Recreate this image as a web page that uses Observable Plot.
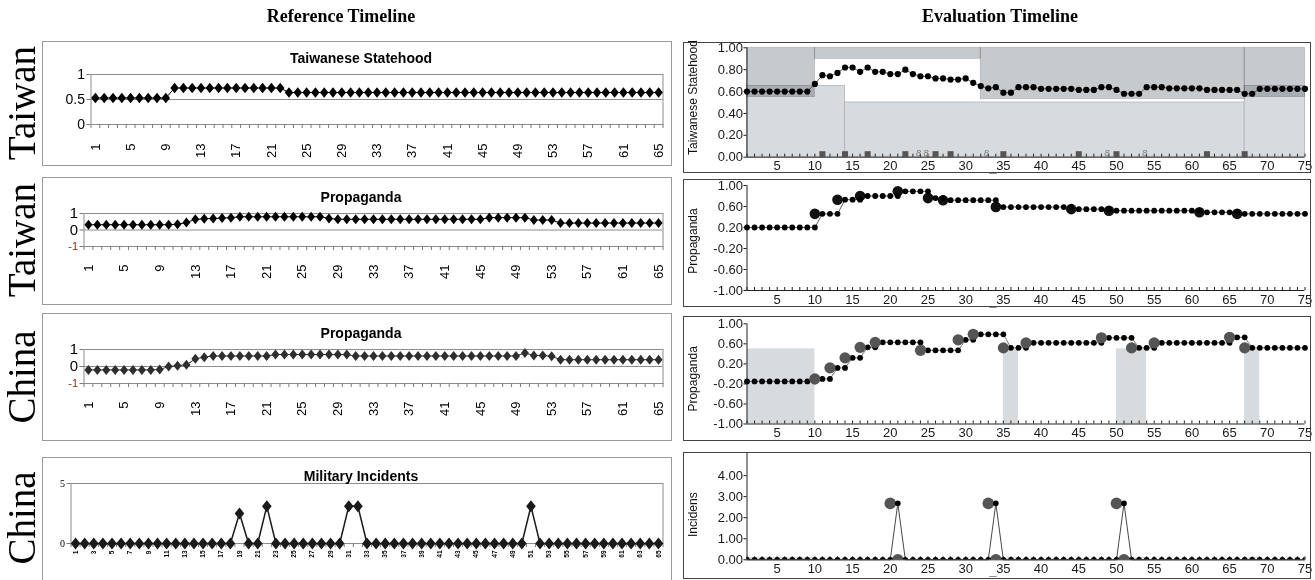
<!DOCTYPE html>
<html><head><meta charset="utf-8">
<script src="https://cdn.jsdelivr.net/npm/d3@7"></script>
<script src="https://cdn.jsdelivr.net/npm/@observablehq/plot@0.6"></script>
<style>
html,body{margin:0;padding:0;background:#fff;}
body{width:1315px;height:580px;position:relative;overflow:hidden;font-family:'Liberation Sans',Arial,sans-serif;}
svg{position:absolute;}
</style></head><body>
<script>
// ---------- text ----------
const headers = ["Reference Timeline", "Evaluation Timeline"];
const rowLabels = ["Taiwan", "Taiwan", "China", "China"];
const refTitles = ["Taiwanese Statehood", "Propaganda", "Propaganda", "Military Incidents"];
const evalYLabels = ["Taiwanese Statehood", "Propaganda", "Propaganda", "Incidens"];

// ---------- reference timeline (categories 1..65) ----------
const refCats = d3.range(1, 66);
const refBounds = d3.range(0.5, 66, 1);
const refTickLabels = [1,5,9,13,17,21,25,29,33,37,41,45,49,53,57,61,65];
const refIncTickLabels = [1,3,5,7,9,11,13,15,17,19,21,23,25,27,29,31,33,35,37,39,41,43,45,47,49,51,53,55,57,59,61,63,65];

const refStatehood = [
 0.53,0.53,0.53,0.53,0.53,0.53,0.53,0.53,0.53,
 0.73,0.73,0.73,0.73,0.73,0.73,0.73,0.73,0.73,0.73,0.73,0.73,0.73,
 0.64,0.64,0.64,0.64,0.64,0.64,0.64,0.64,0.64,0.64,
 0.64,0.64,0.64,0.64,0.64,0.64,0.64,0.64,0.64,0.64,
 0.64,0.64,0.64,0.64,0.64,0.64,0.64,0.64,0.64,0.64,
 0.64,0.64,0.64,0.64,0.64,0.64,0.64,0.64,0.64,0.64,
 0.64,0.64,0.64];
const refPropTaiwan = [
 0.32,0.32,0.32,0.32,0.32,0.32,0.32,0.32,0.32,0.32,
 0.35,0.45,0.65,0.68,0.70,0.72,0.75,
 0.80,0.80,0.80,0.80,0.80,0.80,0.80,0.80,0.80,0.80,
 0.70,
 0.65,0.65,0.65,0.65,0.65,0.65,0.65,0.65,0.65,0.65,0.65,0.65,0.65,0.65,0.65,0.65,0.65,
 0.75,0.75,0.75,0.75,0.75,
 0.60,0.60,0.60,
 0.42,0.42,0.42,0.42,0.42,0.42,0.42,0.42,0.42,0.42,0.42,0.42];
const refPropChina = [
 -0.20,-0.20,-0.20,-0.20,-0.20,-0.20,-0.20,-0.20,
 -0.18,0.00,0.05,0.10,0.45,0.55,
 0.62,0.62,0.62,0.62,0.62,0.62,0.62,
 0.70,0.70,0.70,0.70,0.70,0.70,0.70,0.70,0.70,
 0.62,0.62,0.62,0.62,0.62,0.62,0.62,0.62,0.62,0.62,0.62,0.62,0.62,0.62,0.62,0.62,0.62,0.62,0.62,
 0.80,0.65,0.65,0.60,
 0.40,0.40,0.40,0.40,0.40,0.40,0.40,0.40,0.40,0.40,0.40,0.40];
const refIncidents = [
 0,0,0,0,0,0,0,0,0,0,
 0,0,0,0,0,0,0,0,2.5,0,
 0,3.1,0,0,0,0,0,0,0,0,
 3.1,3.1,0,0,0,0,0,0,0,0,
 0,0,0,0,0,0,0,0,0,0,
 3.1,0,0,0,0,0,0,0,0,0,
 0,0,0,0,0];

// ---------- evaluation timeline (steps 1..75) ----------
const evalSteps = d3.range(1, 76);
const evalXTicks = [5,10,15,20,25,30,35,40,45,50,55,60,65,70,75];
const evalCursor = [33.6];

const evalStatehood = [
 0.60,0.60,0.60,0.60,0.60,0.60,0.60,0.60,0.60,
 0.67,0.75,0.74,0.77,0.82,0.82,0.78,0.82,0.78,0.78,0.76,
 0.76,0.80,0.76,0.74,0.74,0.72,0.72,0.71,0.71,0.72,
 0.68,0.65,0.63,0.64,0.59,0.59,0.64,0.64,0.64,0.625,
 0.625,0.625,0.625,0.625,0.615,0.615,0.615,0.64,0.64,0.615,
 0.58,0.58,0.58,0.64,0.64,0.64,0.63,0.63,0.63,0.63,
 0.63,0.615,0.615,0.615,0.615,0.615,0.58,0.58,0.625,0.625,
 0.625,0.625,0.625,0.625,0.625];
const stateUpperX1 = [1, 10, 32, 67];
const stateUpperX2 = [10, 32, 67, 75];
const stateUpperLow = [0.55, 0.90, 0.53, 0.55];
const stateLowerX1 = [1, 14, 67];
const stateLowerX2 = [14, 67, 75];
const stateLowerHigh = [0.65, 0.50, 0.65];
const stateSquares = [11, 14, 17, 22, 26, 28, 35, 45, 50, 62, 67];
const stateGlyphs = [24, 25, 33, 49, 54];

const evalPropTaiwan = [
 0.20,0.20,0.20,0.20,0.20,0.20,0.20,0.20,0.20,0.20,
 0.46,0.46,0.46,0.73,0.73,0.73,0.80,0.80,0.80,0.80,
 0.80,0.89,0.89,0.89,0.89,0.76,0.76,0.72,0.72,0.72,
 0.72,0.72,0.72,0.72,0.59,0.59,0.59,0.59,0.59,0.59,
 0.59,0.59,0.59,0.59,0.55,0.55,0.55,0.55,0.55,0.52,
 0.52,0.52,0.52,0.52,0.52,0.52,0.52,0.52,0.52,0.52,
 0.52,0.49,0.49,0.49,0.49,0.49,0.46,0.46,0.46,0.46,
 0.46,0.46,0.46,0.46,0.46];
const evalPropTaiwanEventX = [10, 13, 16, 21, 25, 27, 34, 44, 49, 61, 66];
const evalPropTaiwanEventV = [0.46, 0.73, 0.80, 0.89, 0.76, 0.72, 0.59, 0.55, 0.52, 0.49, 0.46];

const evalPropChina = [
 -0.15,-0.15,-0.15,-0.15,-0.15,-0.15,-0.15,-0.15,-0.15,-0.15,
 -0.10,-0.10,0.12,0.12,0.32,0.32,0.53,0.53,0.63,0.63,
 0.63,0.63,0.63,0.63,0.47,0.47,0.47,0.47,0.47,0.68,
 0.68,0.79,0.79,0.79,0.79,0.52,0.52,0.52,0.62,0.62,
 0.62,0.62,0.62,0.62,0.62,0.62,0.62,0.62,0.72,0.72,
 0.72,0.72,0.52,0.52,0.52,0.62,0.62,0.62,0.62,0.62,
 0.62,0.62,0.62,0.62,0.62,0.73,0.73,0.52,0.52,0.52,
 0.52,0.52,0.52,0.52,0.52];
const evalPropChinaEventX = [10, 12, 14, 16, 18, 24, 29, 31, 35, 38, 48, 52, 55, 65, 67];
const evalPropChinaEventV = [-0.10, 0.12, 0.32, 0.53, 0.63, 0.47, 0.68, 0.79, 0.52, 0.62, 0.72, 0.52, 0.62, 0.73, 0.52];
const chinaShadeX1 = [1, 35, 50, 67];
const chinaShadeX2 = [10, 37, 54, 69];

const evalIncidents = [
 0,0,0,0,0,0,0,0,0,0,
 0,0,0,0,0,0,0,0,0,0,
 2.68,0,0,0,0,0,0,0,0,0,
 0,0,0,2.68,0,0,0,0,0,0,
 0,0,0,0,0,0,0,0,0,0,
 2.68,0,0,0,0,0,0,0,0,0,
 0,0,0,0,0,0,0,0,0,0,
 0,0,0,0,0];
const evalIncEventX = [20, 21, 33, 34, 50, 51];
const evalIncEventV = [2.68, 0, 2.68, 0, 2.68, 0];

// ---------- helpers ----------
const SANS = "'Liberation Sans', Arial, Helvetica, sans-serif";
const SERIF = "'Liberation Serif', 'Times New Roman', Times, serif";

function addDiv(text, css) {
  const d = document.createElement("div");
  d.textContent = text;
  Object.assign(d.style, {position: "absolute", whiteSpace: "nowrap"}, css);
  document.body.appendChild(d);
  return d;
}
function addBox(left, top, w, h, color) {
  const d = document.createElement("div");
  Object.assign(d.style, {position: "absolute", left: left + "px", top: top + "px", width: w + "px", height: h + "px",
    border: "1px solid " + color, boxSizing: "border-box", pointerEvents: "none"});
  document.body.appendChild(d);
}
function place(svg, left, top) {
  svg.style.left = left + "px";
  svg.style.top = top + "px";
  svg.style.position = "absolute";
  document.body.appendChild(svg);
}
const excelDiamond = {
  draw(ctx, size) {
    const r = Math.sqrt(size / Math.PI), w = r * 0.8;
    ctx.moveTo(0, -r); ctx.lineTo(w, 0); ctx.lineTo(0, r); ctx.lineTo(-w, 0); ctx.closePath();
  }
};

// ---------- headers & row labels ----------
addDiv(headers[0], {left: "191px", top: "6px", width: "300px", textAlign: "center", fontFamily: SERIF, fontWeight: "bold", fontSize: "18px"});
addDiv(headers[1], {left: "850px", top: "6px", width: "300px", textAlign: "center", fontFamily: SERIF, fontWeight: "bold", fontSize: "18px"});
const rowLabelY = [103, 240, 377, 518];
rowLabels.forEach((t, i) => addDiv(t, {left: (22 - 70) + "px", top: (rowLabelY[i] - 24) + "px", width: "140px", height: "48px",
  lineHeight: "48px", textAlign: "center", fontFamily: SERIF, fontSize: "39px", transform: "rotate(-90deg)"}));

// ---------- reference charts ----------
function refChart(o) {
  const data = o.values.map((v, i) => ({c: refCats[i], v}));
  const marks = [
    Plot.ruleY(o.grid, {stroke: "#8c8c8c"}),
    Plot.frame({stroke: "#8c8c8c"}),
    Plot.axisX({ticks: refBounds, tickSize: 4, tickFormat: () => "", stroke: "#7a7a7a"}),
    Plot.axisX({ticks: o.xTicks, tickSize: 0, tickPadding: o.xPad, tickRotate: -90, fontSize: o.xFont, fontWeight: o.xWeight || "normal"}),
    Plot.axisY({ticks: o.yTicks, tickSize: 4, tickPadding: 2, tickFormat: d => String(d), fontSize: o.yFont, fontFamily: o.yFamily || SANS, stroke: "#7a7a7a"})
  ];
  if (o.yExtra) marks.push(Plot.axisY({ticks: o.yExtra, tickSize: 4, tickPadding: 2, tickFormat: d => String(d), fontSize: 11, fill: "#8b2a1e", stroke: "#7a7a7a"}));
  marks.push(
    Plot.line(data, {x: "c", y: "v", stroke: o.color, strokeWidth: o.lw}),
    Plot.dot(data, {x: "c", y: "v", symbol: excelDiamond, r: o.r, fill: o.color, stroke: "none"})
  );
  const svg = Plot.plot({
    width: o.w, height: o.h,
    marginLeft: o.ml, marginRight: o.mr, marginTop: o.mt, marginBottom: o.mb,
    style: {fontFamily: SANS, background: "transparent", color: "#000", overflow: "visible"},
    x: {domain: [0.5, 65.5], label: null},
    y: {domain: o.yDomain, label: null},
    marks
  });
  place(svg, o.left, o.top);
  addBox(o.left, o.top, o.w, o.h, "#9a9a9a");
  addDiv(o.title, {left: (361 - 200) + "px", top: (o.titleY - 9) + "px", width: "400px", textAlign: "center",
    fontFamily: SANS, fontWeight: "bold", fontSize: "14px", lineHeight: "18px"});
}

refChart({values: refStatehood, title: refTitles[0], titleY: 58, left: 42, top: 41, w: 630, h: 125,
  ml: 48.5, mr: 9.5, mt: 33, mb: 42, yDomain: [0, 1], yTicks: [0, 0.5, 1], grid: [0.5], yFont: 14,
  xTicks: refTickLabels, xPad: 19, xFont: 13, r: 5.3, color: "#000", lw: 1});
refChart({values: refPropTaiwan, title: refTitles[1], titleY: 197, left: 42, top: 177, w: 630, h: 128,
  ml: 41.5, mr: 9.5, mt: 36, mb: 59, yDomain: [-1, 1], yTicks: [0, 1], yExtra: [-1], grid: [0], yFont: 15,
  xTicks: refTickLabels, xPad: 18, xFont: 13, r: 5, color: "#000", lw: 1});
refChart({values: refPropChina, title: refTitles[2], titleY: 333, left: 42, top: 313, w: 630, h: 128,
  ml: 41.5, mr: 9.5, mt: 36, mb: 58, yDomain: [-1, 1], yTicks: [0, 1], yExtra: [-1], grid: [0], yFont: 15,
  xTicks: refTickLabels, xPad: 18, xFont: 13, r: 5, color: "#2e2e2e", lw: 1});
refChart({values: refIncidents, title: refTitles[3], titleY: 476, left: 42, top: 457, w: 630, h: 124,
  ml: 28.5, mr: 9.5, mt: 26, mb: 38, yDomain: [0, 5], yTicks: [0, 5], grid: [], yFont: 10, yFamily: SERIF,
  xTicks: refIncTickLabels, xPad: 7, xFont: 6.5, xWeight: "bold", r: 6, color: "#1a1a1a", lw: 1.5});

// ---------- evaluation charts ----------
function evalChart(o) {
  const fh = o.h - o.mt - o.mb;
  const svg = Plot.plot({
    width: o.w, height: o.h,
    marginLeft: 63.5, marginRight: 6.5, marginTop: o.mt, marginBottom: o.mb,
    style: {fontFamily: SANS, background: "transparent", color: "#1a1a1a", overflow: "visible"},
    x: {domain: [1, 75], label: null},
    y: {domain: o.yDomain, label: null},
    marks: [
      ...o.back,
      Plot.tickX(evalSteps, {x: d => d, insetTop: fh - 3, stroke: "#222"}),
      Plot.ruleX([1], {stroke: "#222"}),
      Plot.ruleY([o.yDomain[0]], {stroke: "#222"}),
      Plot.axisY({ticks: o.yTicks, tickFormat: d => d.toFixed(2), tickSize: 3, tickPadding: 1, fontSize: 13}),
      Plot.axisX({ticks: evalXTicks, tickSize: 0, tickPadding: 4, fontSize: 13}),
      Plot.text(evalCursor, {x: d => d, frameAnchor: "bottom", dy: 15, text: () => "_", fontSize: 13, fontWeight: "bold"}),
      Plot.text([o.label], {frameAnchor: "left", textAnchor: "middle", rotate: -90, dx: -54, dy: o.labelDy, fontSize: 12, fill: "#111"}),
      ...o.fore
    ]
  });
  place(svg, o.left, o.top);
  addBox(o.left, o.top, o.w, o.h, "#444");
}

const stateUpper = stateUpperX1.map((x1, i) => ({x1, x2: stateUpperX2[i], y1: stateUpperLow[i], y2: 1}));
const stateLower = stateLowerX1.map((x1, i) => ({x1, x2: stateLowerX2[i], y1: 0, y2: stateLowerHigh[i]}));
const stateSeries = evalSteps.map((s, i) => ({s, v: evalStatehood[i]}));
evalChart({left: 683, top: 42, w: 628, h: 131, mt: 5.3, mb: 16.3, yDomain: [0, 1], yTicks: [0, 0.2, 0.4, 0.6, 0.8, 1],
  label: evalYLabels[0], labelDy: -5,
  back: [
    Plot.rect(stateLower, {x1: "x1", x2: "x2", y1: "y1", y2: "y2", fill: "#d8dbde", stroke: "#aeb2b6", strokeWidth: 0.8}),
    Plot.rect(stateUpper, {x1: "x1", x2: "x2", y1: "y1", y2: "y2", fill: "#c7cacd", stroke: "#b3b7ba", strokeWidth: 0.8, mixBlendMode: "multiply"})
  ],
  fore: [
    Plot.dot(stateSquares, {x: d => d, y: 0, symbol: "square", r: 3.4, dy: -3, fill: "#555"}),
    Plot.text(stateGlyphs, {x: d => d, y: 0, text: () => "8", dx: -2, dy: -4, fontSize: 9, fontStyle: "italic", fill: "#777"}),
    Plot.line(stateSeries, {x: "s", y: "v", stroke: "#333", strokeWidth: 0.8}),
    Plot.dot(stateSeries, {x: "s", y: "v", r: 3.1, fill: "#000"})
  ]});

const twSeries = evalSteps.map((s, i) => ({s, v: evalPropTaiwan[i]}));
const twEvents = evalPropTaiwanEventX.map((s, i) => ({s, v: evalPropTaiwanEventV[i]}));
evalChart({left: 683, top: 179, w: 628, h: 128, mt: 6, mb: 17, yDomain: [-1, 1], yTicks: [-1, -0.6, -0.2, 0.2, 0.6, 1],
  label: evalYLabels[1], labelDy: 3, back: [],
  fore: [
    Plot.line(twSeries, {x: "s", y: "v", stroke: "#333", strokeWidth: 0.8}),
    Plot.dot(twEvents, {x: "s", y: "v", r: 5.3, fill: "#111"}),
    Plot.dot(twSeries, {x: "s", y: "v", r: 2.9, fill: "#000"})
  ]});

const cnSeries = evalSteps.map((s, i) => ({s, v: evalPropChina[i]}));
const cnEvents = evalPropChinaEventX.map((s, i) => ({s, v: evalPropChinaEventV[i]}));
const cnShade = chinaShadeX1.map((x1, i) => ({x1, x2: chinaShadeX2[i]}));
evalChart({left: 683, top: 316, w: 628, h: 125, mt: 7.3, mb: 17.5, yDomain: [-1, 1], yTicks: [-1, -0.6, -0.2, 0.2, 0.6, 1],
  label: evalYLabels[2], labelDy: 5,
  back: [Plot.rect(cnShade, {x1: "x1", x2: "x2", y1: -1, y2: 0.5, fill: "#d8dbde"})],
  fore: [
    Plot.line(cnSeries, {x: "s", y: "v", stroke: "#555", strokeWidth: 0.8}),
    Plot.dot(cnSeries, {x: "s", y: "v", r: 2.9, fill: "#000"}),
    Plot.dot(cnEvents, {x: "s", y: "v", r: 5.6, fill: "#555"})
  ]});

const incSeries = evalSteps.map((s, i) => ({s, v: evalIncidents[i]}));
const incEvents = evalIncEventX.map((s, i) => ({s, v: evalIncEventV[i]}));
evalChart({left: 683, top: 452, w: 628, h: 127, mt: 1, mb: 19.7, yDomain: [0, 5.05], yTicks: [0, 1, 2, 3, 4],
  label: evalYLabels[3], labelDy: 8,
  back: [Plot.rect(cnShade, {x1: "x1", x2: "x2", y1: 0, y2: 0.12, fill: "#dfe1e3"})],
  fore: [
    Plot.line(incSeries, {x: "s", y: "v", stroke: "#333", strokeWidth: 0.9}),
    Plot.dot(incEvents, {x: "s", y: "v", r: 5.8, fill: "#555", clip: true}),
    Plot.dot(incSeries, {x: "s", y: "v", r: 2.8, fill: "#000", clip: true})
  ]});
</script>
</body></html>
